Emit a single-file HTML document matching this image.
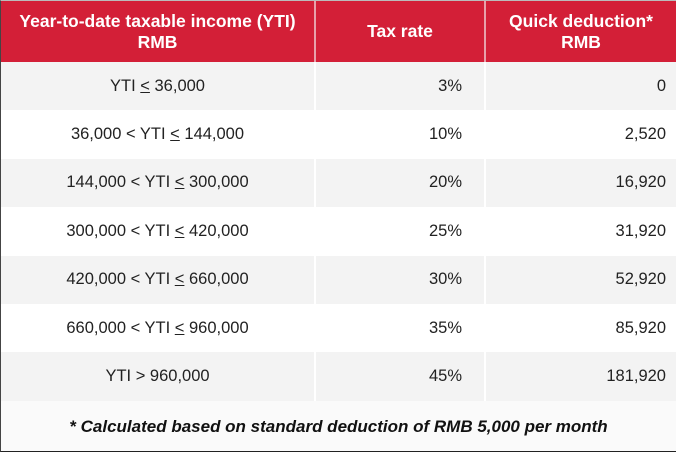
<!DOCTYPE html>
<html><head><meta charset="utf-8"><style>
body{margin:0;width:677px;height:453px;overflow:hidden;background:#fff;font-family:"Liberation Sans",sans-serif;}
.wrap{position:absolute;left:0;top:0;width:676px;height:452px;border-left:1px solid #444;border-bottom:1px solid #222;border-top:1px solid #bbb;box-sizing:border-box;background:#fafafa;}
table{border-collapse:collapse;width:675px;table-layout:fixed;}
th{background:#d31f37;color:#fff;font-weight:bold;font-size:17.5px;height:61px;line-height:21px;border-right:2px solid #e8a0aa;padding:0;}
th:last-child{border-right:none;}
td{font-size:16.5px;color:#222;height:48.4px;padding:0;border-right:2px solid #fff;}
td:last-child{border-right:none;}
tr:nth-child(odd) td{background:#f3f3f3;}
tr:nth-child(even) td{background:#fff;}
td.c{text-align:center;}
td.r{text-align:right;padding-right:22px;}
td.r3{text-align:right;padding-right:10px;}
.foot{text-align:center;font-weight:bold;font-style:italic;font-size:17px;color:#111;margin-top:16px;}
</style></head><body>
<div class="wrap">
<table>
<colgroup><col style="width:314px"><col style="width:170px"><col style="width:191px"></colgroup>
<thead><tr>
<th>Year-to-date taxable income (YTI)<br>RMB</th>
<th>Tax rate</th>
<th>Quick deduction*<br>RMB</th>
</tr></thead>
<tbody>
<tr><td class="c">YTI <u>&lt;</u> 36,000</td><td class="r">3%</td><td class="r3">0</td></tr>
<tr><td class="c">36,000 &lt; YTI <u>&lt;</u> 144,000</td><td class="r">10%</td><td class="r3">2,520</td></tr>
<tr><td class="c">144,000 &lt; YTI <u>&lt;</u> 300,000</td><td class="r">20%</td><td class="r3">16,920</td></tr>
<tr><td class="c">300,000 &lt; YTI <u>&lt;</u> 420,000</td><td class="r">25%</td><td class="r3">31,920</td></tr>
<tr><td class="c">420,000 &lt; YTI <u>&lt;</u> 660,000</td><td class="r">30%</td><td class="r3">52,920</td></tr>
<tr><td class="c">660,000 &lt; YTI <u>&lt;</u> 960,000</td><td class="r">35%</td><td class="r3">85,920</td></tr>
<tr><td class="c">YTI &gt; 960,000</td><td class="r">45%</td><td class="r3">181,920</td></tr>
</tbody></table>
<div class="foot">* Calculated based on standard deduction of RMB 5,000 per month</div>
</div>
</body></html>
